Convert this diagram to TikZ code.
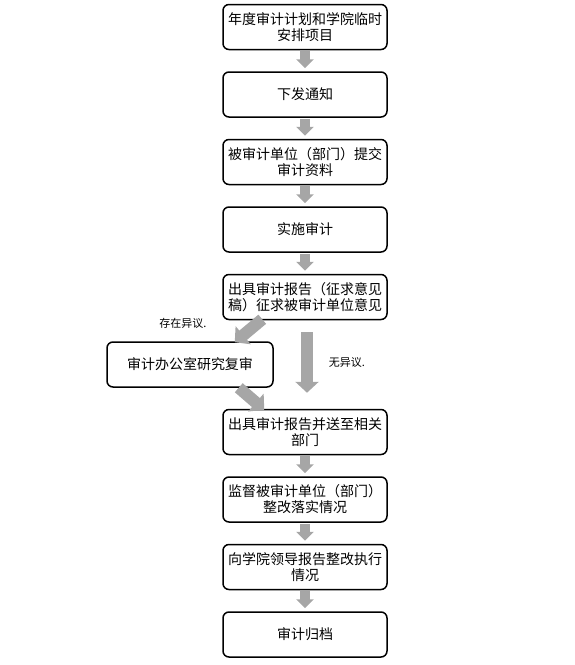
\documentclass[tikz,border=0pt]{standalone}
\usepackage{fontspec}
\newfontfamily\cjk{Noto Sans CJK SC}
\usetikzlibrary{arrows.meta, calc}
\definecolor{cgrey}{HTML}{A6A6A6}
\tikzset{
  every picture/.style={font=\cjk, line width=1.5pt},
  box/.style={draw=black, fill=white, rounded corners=6pt, align=center, inner sep=0pt, minimum width=164pt, minimum height=45pt, font=\cjk\fontsize{14pt}{16pt}\selectfont},
  flow/.style={draw=cgrey, line width=10pt, -{Triangle[width=17pt, length=9pt]}, shorten <=1pt, shorten >=3pt},
  bigflow/.style={draw=cgrey, line width=12pt, -{Triangle[width=23pt, length=11pt]}},
  note/.style={font=\cjk\fontsize{11pt}{13pt}\selectfont},
}
\begin{document}
\begin{tikzpicture}[x=1pt, y=-1pt]
  \useasboundingbox (0,0) rectangle (574,665);
  \foreach \i/\k/\t in {1/0/{年度审计计划和学院临时\\安排项目},
      2/1/{下发通知},
      3/2/{被审计单位（部门）提交\\审计资料},
      4/3/{实施审计},
      5/4/{出具审计报告（征求意见\\稿）征求被审计单位意见},
      6/6/{出具审计报告并送至相关\\部门},
      7/7/{监督被审计单位（部门）\\整改落实情况},
      8/8/{向学院领导报告整改执行\\情况},
      9/9/{审计归档}} {
    \node[box] (p\i) at (305,27+67.5*\k) {\t};
  }
  \node[box, minimum width=166pt] (rev) at (190,364.5) {审计办公室研究复审};
  \foreach \a/\b in {1/2,2/3,3/4,4/5,6/7,7/8,8/9} {
    \draw[flow] (p\a.south) -- (p\b.north);
  }
  % no objection: straight down
  \draw[bigflow] ($(p5.south)+(2,12)$) -- ($(p6.north)+(2,-16)$);
  % objection: detour through review
  \draw[bigflow] ($(p5.south west)+(40,-1)$) -- ($(rev.north east)+(-39,1)$);
  \draw[bigflow] ($(rev.south east)+(-35,0)$) -- ($(p6.north west)+(42,1)$);
  \node[note] (yes) at (183,323) {存在异议.};
  \node[note] (no) at (347,362) {无异议.};
\end{tikzpicture}
\end{document}
